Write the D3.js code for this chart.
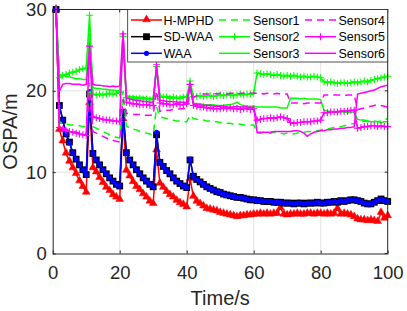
<!DOCTYPE html>
<html>
<head>
<meta charset="utf-8">
<script src="https://cdn.jsdelivr.net/npm/d3@7"></script>
<style>
  body { margin: 0; background: #fff; }
  svg { display: block; font-family: "Liberation Sans", Arial, Helvetica, sans-serif; }
</style>
</head>
<body>
<svg id="chart" width="407" height="311"></svg>
<script>
// time steps 1..100
var time = d3.range(1, 101);
var xTicks = [0, 20, 40, 60, 80, 100];
var yTicks = [0, 10, 20, 30];

var hmphd = [30,
  15.2, 13.8, 12.3, 11.3, 10.5, 9.8, 8.9, 8.2, 7.5,
  18.5, 10.5, 10.0, 9.3, 8.7, 8.1, 7.7, 7.2, 6.9, 6.6,
  16.5, 10.2, 9.5, 8.8, 8.2, 7.8, 7.3, 6.9, 6.4, 6.1,
  12.7, 8.6, 8.1, 7.6, 7.2, 6.9, 6.5, 6.2, 6.0, 5.7,
  9.2, 7.0, 6.4, 6.1, 5.8, 5.5, 5.4, 5.3, 5.2, 5.0,
  4.9, 4.8, 4.7, 4.6, 4.5, 4.6, 4.6, 4.7, 4.7, 4.8,
  4.8, 4.9, 4.8, 4.9, 4.8, 4.9, 4.9, 5.6, 4.8, 4.7,
  4.8, 4.8, 4.9, 4.8, 4.8, 4.9, 4.9, 4.8, 4.9, 4.9,
  4.8, 4.9, 4.8, 4.9, 5.5, 4.8, 4.9, 4.8, 4.7, 4.5,
  4.2, 4.1, 4.1, 4.0, 4.1, 4.0, 3.9, 5.0, 4.3, 4.6];

var sdwaa = [30,
  18.2, 16.4, 14.7, 13.7, 12.4, 11.6, 10.9, 10.3, 9.7,
  19.6, 12.3, 11.5, 10.9, 10.3, 9.8, 9.3, 8.9, 8.5, 8.3,
  17.3, 12.4, 11.5, 10.9, 10.3, 9.8, 9.3, 8.9, 8.5, 8.2,
  14.6, 11.2, 10.7, 10.2, 9.8, 9.3, 8.9, 8.6, 8.3, 8.1,
  11.5, 9.5, 9.1, 8.8, 8.5, 8.2, 8.0, 7.8, 7.6, 7.5,
  7.3, 7.2, 7.1, 7.0, 6.9, 6.9, 6.8, 6.7, 6.6, 6.6,
  6.5, 6.5, 6.4, 6.4, 6.4, 6.3, 6.3, 6.3, 6.2, 6.2,
  6.2, 6.1, 6.2, 6.2, 6.1, 6.2, 6.2, 6.2, 6.3, 6.2,
  6.2, 6.3, 6.3, 6.4, 6.3, 6.5, 6.4, 6.5, 6.6, 6.6,
  6.5, 6.4, 6.2, 6.1, 6.1, 6.3, 6.5, 6.7, 6.5, 6.4];

var waa = [30,
  18.1, 16.4, 14.7, 13.6, 12.4, 11.6, 10.9, 10.3, 9.7,
  19.9, 12.3, 11.5, 10.9, 10.3, 9.8, 9.3, 8.9, 8.5, 8.3,
  17.5, 12.4, 11.5, 10.9, 10.3, 9.8, 9.3, 8.9, 8.5, 8.2,
  14.9, 11.2, 10.7, 10.2, 9.8, 9.3, 8.9, 8.6, 8.3, 8.1,
  11.6, 9.5, 9.1, 8.8, 8.5, 8.2, 8.0, 7.8, 7.6, 7.5,
  7.3, 7.2, 7.1, 7.0, 6.9, 6.9, 6.8, 6.7, 6.6, 6.6,
  6.5, 6.5, 6.4, 6.4, 6.4, 6.3, 6.3, 6.3, 6.2, 6.2,
  6.2, 6.1, 6.2, 6.2, 6.1, 6.2, 6.2, 6.2, 6.3, 6.2,
  6.2, 6.3, 6.3, 6.4, 6.3, 6.5, 6.4, 6.5, 6.6, 6.6,
  6.5, 6.4, 6.2, 6.1, 6.1, 6.3, 6.5, 6.7, 6.5, 6.4];

var sensor1 = [30,
  16.2, 16.0, 15.9, 15.8, 15.8, 15.7, 15.7, 15.6, 15.6,
  21.0, 15.6, 15.4, 15.2, 15.0, 14.8, 14.6, 14.4, 14.3, 14.2,
  20.0, 15.6, 15.5, 15.3, 15.2, 15.0, 14.9, 14.8, 14.7, 14.6,
  18.0, 16.8, 16.7, 16.6, 16.5, 16.4, 16.3, 16.3, 16.2, 16.2,
  17.0, 16.6, 16.5, 16.4, 16.4, 16.3, 16.3, 16.2, 16.2, 16.1,
  16.1, 16.0, 16.0, 15.9, 15.9, 15.9, 15.8, 15.8, 15.8, 15.8,
  14.8, 14.8, 14.9, 14.8, 14.8, 14.9, 14.8, 14.8, 14.7, 14.8,
  14.8, 14.7, 14.8, 14.9, 14.9, 15.0, 15.0, 15.1, 15.1, 15.2,
  15.3, 15.3, 15.4, 15.5, 15.5, 15.6, 15.7, 15.8, 15.9, 16.0,
  16.3, 16.2, 16.3, 16.2, 16.2, 16.3, 16.2, 16.3, 16.4, 16.6];

var sensor2 = [30,
  21.6, 21.9, 22.0, 22.2, 22.3, 22.4, 22.6, 22.7, 22.8,
  29.3, 19.6, 19.5, 19.6, 19.5, 19.6, 19.7, 19.6, 19.7, 19.8,
  26.7, 19.2, 19.1, 19.1, 19.0, 19.1, 19.0, 19.0, 18.9, 19.0,
  23.0, 19.3, 19.2, 19.2, 19.1, 19.2, 19.1, 19.1, 19.2, 19.2,
  21.2, 19.3, 19.3, 19.4, 19.3, 19.4, 19.4, 19.3, 19.4, 19.5,
  19.4, 19.5, 19.5, 19.4, 19.5, 19.6, 19.5, 19.6, 19.6, 19.7,
  22.2, 22.1, 22.0, 22.1, 22.0, 21.9, 22.0, 21.9, 21.8, 21.9,
  21.8, 21.9, 21.8, 21.7, 21.8, 21.7, 21.7, 21.8, 21.7, 21.6,
  21.1, 21.0, 21.1, 21.0, 20.9, 21.0, 21.0, 20.9, 21.0, 21.1,
  21.0, 21.1, 21.2, 21.1, 21.3, 21.4, 21.5, 21.6, 21.7, 21.8];

var sensor3 = [30,
  22.0, 21.9, 21.8, 21.7, 21.6, 21.5, 21.5, 21.4, 21.4,
  27.0, 20.4, 20.3, 20.3, 20.2, 20.2, 20.1, 20.1, 20.0, 20.0,
  25.0, 19.4, 19.3, 19.3, 19.2, 19.2, 19.2, 19.1, 19.1, 19.1,
  22.5, 19.4, 19.3, 19.3, 19.3, 19.2, 19.2, 19.2, 19.3, 19.3,
  20.5, 18.5, 18.4, 18.4, 18.3, 18.3, 18.3, 18.3, 18.2, 18.2,
  18.2, 18.3, 18.3, 18.4, 18.6, 18.3, 18.2, 18.1, 18.1, 18.1,
  18.0, 18.0, 18.0, 18.0, 18.0, 18.0, 18.0, 17.9, 17.9, 17.9,
  19.1, 19.1, 19.1, 19.0, 19.1, 19.0, 19.0, 19.0, 19.0, 18.9,
  17.6, 17.5, 17.5, 17.4, 17.4, 17.4, 17.4, 17.3, 17.4, 17.4,
  16.5, 16.4, 16.4, 16.3, 16.2, 16.2, 16.2, 16.1, 16.2, 16.2];

var sensor4 = [30,
  15.6, 15.4, 15.3, 15.1, 15.0, 14.9, 14.8, 14.7, 14.6,
  20.0, 15.0, 14.8, 14.6, 14.4, 14.2, 14.0, 13.9, 13.8, 13.7,
  19.0, 17.2, 17.2, 17.1, 17.1, 17.1, 17.0, 17.0, 17.0, 17.0,
  20.0, 17.5, 17.5, 17.6, 17.6, 17.7, 17.7, 17.8, 17.8, 17.9,
  19.5, 19.2, 19.4, 19.5, 19.6, 19.6, 19.6, 19.7, 19.6, 19.7,
  19.7, 19.6, 19.7, 19.7, 19.6, 19.7, 19.7, 19.6, 19.7, 19.7,
  19.7, 19.7, 19.6, 19.7, 19.7, 19.6, 19.7, 19.6, 19.6, 19.6,
  18.5, 18.5, 18.5, 18.5, 18.4, 18.5, 18.5, 18.5, 18.5, 18.5,
  19.5, 19.5, 19.5, 19.5, 19.5, 19.5, 19.4, 19.5, 19.5, 19.5,
  17.7, 17.8, 17.9, 18.0, 18.1, 18.2, 18.3, 18.2, 18.1, 18.0];

var sensor5 = [30,
  15.5, 15.3, 15.1, 15.0, 14.9, 14.8, 14.7, 14.6, 14.5,
  25.5, 16.8, 16.7, 16.6, 16.5, 16.4, 16.4, 16.3, 16.3, 16.2,
  27.0, 18.6, 18.5, 18.4, 18.4, 18.3, 18.3, 18.3, 18.2, 18.2,
  23.2, 18.5, 18.4, 18.4, 18.3, 18.3, 18.4, 18.3, 18.3, 18.4,
  20.8, 18.2, 18.1, 18.0, 18.0, 17.9, 17.9, 17.8, 17.8, 17.8,
  17.9, 17.8, 17.9, 17.8, 17.8, 17.7, 17.8, 17.8, 17.7, 17.8,
  16.4, 16.5, 16.6, 16.6, 16.7, 16.6, 16.7, 16.8, 16.7, 16.6,
  16.1, 16.0, 16.1, 16.1, 16.2, 16.2, 16.2, 16.3, 16.3, 16.4,
  17.3, 17.3, 17.4, 17.4, 17.4, 17.5, 17.5, 17.5, 17.6, 17.6,
  15.4, 15.5, 15.6, 15.6, 15.7, 15.7, 15.6, 15.7, 15.6, 15.6];

var sensor6 = [30,
  20.0, 20.8, 20.9, 20.9, 20.8, 20.8, 20.8, 20.7, 20.8,
  25.0, 20.8, 20.7, 20.7, 20.6, 20.6, 20.5, 20.6, 20.5, 20.6,
  27.3, 19.2, 19.0, 18.9, 18.8, 18.8, 18.7, 18.7, 18.6, 18.6,
  23.0, 18.8, 18.8, 18.7, 18.7, 18.7, 18.6, 18.6, 18.6, 18.6,
  20.5, 18.4, 18.3, 18.3, 18.2, 18.2, 18.2, 18.1, 18.1, 18.1,
  18.1, 18.0, 18.0, 18.0, 18.1, 18.0, 18.0, 18.0, 17.9, 18.0,
  14.9, 14.9, 14.9, 14.9, 14.9, 15.0, 15.0, 15.0, 15.0, 15.0,
  15.0, 15.1, 15.1, 15.0, 14.8, 14.4, 14.7, 14.9, 15.0, 15.1,
  15.1, 15.2, 15.2, 15.3, 15.3, 15.4, 15.4, 15.5, 15.5, 15.6,
  19.6, 19.7, 19.8, 19.9, 20.0, 20.1, 20.3, 20.5, 20.6, 20.7];

var series = [
  {name: "H-MPHD", values: hmphd, color: "#ff0000", dash: null, marker: "triangle"},
  {name: "SD-WAA", values: sdwaa, color: "#000000", dash: null, marker: "square"},
  {name: "WAA", values: waa, color: "#0000ff", dash: null, marker: "circle"},
  {name: "Sensor1", values: sensor1, color: "#00ff00", dash: "7,5", marker: null},
  {name: "Sensor2", values: sensor2, color: "#00ff00", dash: null, marker: "plus"},
  {name: "Sensor3", values: sensor3, color: "#00ff00", dash: null, marker: null},
  {name: "Sensor4", values: sensor4, color: "#ff00ff", dash: "7,5", marker: null},
  {name: "Sensor5", values: sensor5, color: "#ff00ff", dash: null, marker: "plus"},
  {name: "Sensor6", values: sensor6, color: "#ff00ff", dash: null, marker: null}
];

var svg = d3.select("#chart");
var axisColor = "#262626";

var x = d3.scaleLinear().domain([0, 100]).range([52.7, 387.7]);
var y = d3.scaleLinear().domain([0, 30]).range([253.5, 9.5]);

// grid
var grid = svg.append("g");
grid.selectAll(".gx").data(xTicks.slice(1, -1)).enter().append("line")
    .attr("x1", function(d){ return x(d); }).attr("x2", function(d){ return x(d); })
    .attr("y1", y(0)).attr("y2", y(30))
    .style("stroke", "#e3e3e3").style("stroke-width", 1);
grid.selectAll(".gy").data(yTicks.slice(1, -1)).enter().append("line")
    .attr("x1", x(0)).attr("x2", x(100))
    .attr("y1", function(d){ return y(d); }).attr("y2", function(d){ return y(d); })
    .style("stroke", "#e3e3e3").style("stroke-width", 1);

function drawMarker(g, s, px, py){
    if(s.marker === "triangle"){
        g.append("path").attr("d", d3.symbol().type(d3.symbolTriangle).size(26)())
            .attr("transform", "translate(" + px + "," + (py - 0.5) + ")")
            .style("fill", s.color).style("stroke", s.color).style("stroke-width", 0.5);
    }else if(s.marker === "square"){
        g.append("rect").attr("x", px - 3.4).attr("y", py - 3.4)
            .attr("width", 6.8).attr("height", 6.8)
            .style("fill", s.color);
    }else if(s.marker === "circle"){
        g.append("circle").attr("cx", px).attr("cy", py).attr("r", 2.6)
            .style("fill", s.color);
    }else if(s.marker === "plus"){
        g.append("path").attr("d", "M" + (px - 3.5) + "," + py + "h7M" + px + "," + (py - 3.5) + "v7")
            .style("stroke", s.color).style("stroke-width", 1.1).style("fill", "none");
    }
}

var line = d3.line()
    .x(function(d, i){ return x(time[i]); })
    .y(function(d){ return y(d); });

series.forEach(function(s){
    var g = svg.append("g");
    g.append("path").datum(s.values)
        .attr("d", line)
        .style("fill", "none")
        .style("stroke", s.color)
        .style("stroke-width", 1.5)
        .style("stroke-dasharray", s.dash);
    if(s.marker){
        s.values.forEach(function(v, i){
            drawMarker(g, s, x(time[i]), y(v));
        });
    }
});

// axes
var xAxis = d3.axisBottom(x).tickValues(xTicks).tickSize(-3).tickSizeOuter(0).tickPadding(12);
var yAxis = d3.axisLeft(y).tickValues(yTicks).tickSize(-3).tickSizeOuter(0).tickPadding(6);

var gx = svg.append("g").attr("transform", "translate(0," + y(0) + ")").call(xAxis);
var gy = svg.append("g").attr("transform", "translate(" + x(0) + ",0)").call(yAxis);
[gx, gy].forEach(function(g){
    g.select(".domain").style("stroke", axisColor);
    g.selectAll(".tick line").style("stroke", axisColor);
    g.selectAll(".tick text").style("fill", axisColor)
        .style("font-size", "18.5px").style("font-family", "Liberation Sans, Arial, sans-serif");
});

// box top/right
svg.append("line").attr("x1", x(0)).attr("x2", x(100)).attr("y1", y(30)).attr("y2", y(30))
    .style("stroke", axisColor);
svg.append("line").attr("x1", x(100)).attr("x2", x(100)).attr("y1", y(30)).attr("y2", y(0))
    .style("stroke", axisColor);
// mirrored ticks
xTicks.forEach(function(t){
    svg.append("line").attr("x1", x(t)).attr("x2", x(t)).attr("y1", y(30)).attr("y2", y(30) + 3)
        .style("stroke", axisColor);
});
yTicks.forEach(function(t){
    svg.append("line").attr("x1", x(100)).attr("x2", x(100) - 3).attr("y1", y(t)).attr("y2", y(t))
        .style("stroke", axisColor);
});

// axis labels
svg.append("text").text("Time/s")
    .attr("x", (x(0) + x(100)) / 2).attr("y", 305)
    .attr("text-anchor", "middle")
    .style("font-size", "20px").style("fill", axisColor);
svg.append("text").text("OSPA/m")
    .attr("transform", "translate(17," + ((y(0) + y(30)) / 2) + ") rotate(-90)")
    .attr("text-anchor", "middle")
    .style("font-size", "20px").style("fill", axisColor);

// legend
var legend = svg.append("g");
legend.append("rect")
    .attr("x", 127.7).attr("y", 9.5).attr("width", 260).attr("height", 52.5)
    .style("fill", "#fff").style("stroke", axisColor).style("stroke-width", 0.8);

var cols = [{x1: 131, x2: 162, tx: 163.5}, {x1: 219, x2: 250, tx: 253}, {x1: 305, x2: 336, tx: 338.5}];
var rows = [20, 36.7, 53.3];

series.forEach(function(s, i){
    var c = cols[Math.floor(i / 3)], ry = rows[i % 3];
    var g = legend.append("g");
    g.append("line").attr("x1", c.x1).attr("x2", c.x2).attr("y1", ry).attr("y2", ry)
        .style("stroke", s.color).style("stroke-width", 1.5)
        .style("stroke-dasharray", s.dash);
    if(s.marker){
        drawMarker(g, s, (c.x1 + c.x2) / 2, ry);
    }
    g.append("text").text(s.name)
        .attr("x", c.tx).attr("y", ry).attr("dy", "0.36em")
        .style("font-size", "12.5px").style("fill", "#000");
});
</script>
</body>
</html>
